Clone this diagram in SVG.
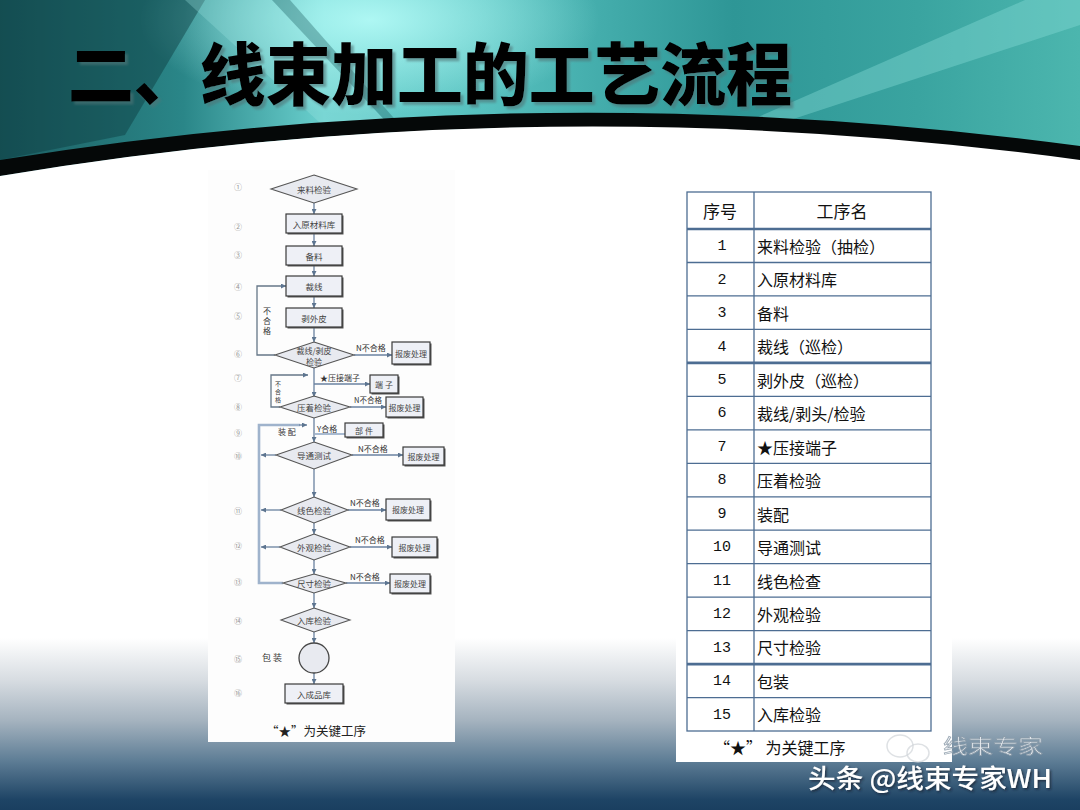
<svg xmlns="http://www.w3.org/2000/svg" width="1080" height="810" viewBox="0 0 1080 810">
<defs>
<linearGradient id="hdr" x1="0" y1="0" x2="1" y2="0">
<stop offset="0" stop-color="#1c5e62"/>
<stop offset="0.17" stop-color="#2a8688"/>
<stop offset="0.3" stop-color="#6ad0ce"/>
<stop offset="0.45" stop-color="#56c0be"/>
<stop offset="0.68" stop-color="#2e9696"/>
<stop offset="0.85" stop-color="#3aa4a0"/>
<stop offset="1" stop-color="#4cb6ae"/>
</linearGradient>
<radialGradient id="glow" cx="0.5" cy="0.5" r="0.5">
<stop offset="0" stop-color="#b6fcf8" stop-opacity="0.9"/>
<stop offset="1" stop-color="#b6fcf8" stop-opacity="0"/>
</radialGradient>
<linearGradient id="btm" x1="0" y1="0" x2="0" y2="1">
<stop offset="0" stop-color="#ffffff"/>
<stop offset="0.24" stop-color="#d8dde2"/>
<stop offset="0.48" stop-color="#a5b3bf"/>
<stop offset="0.71" stop-color="#5f7e96"/>
<stop offset="0.94" stop-color="#1e4465"/>
<stop offset="1" stop-color="#1a3f60"/>
</linearGradient>
<filter id="tsh" x="-5%" y="-20%" width="110%" height="140%">
<feDropShadow dx="3" dy="3" stdDeviation="1" flood-color="#4f7576" flood-opacity="0.6"/>
</filter>
<filter id="wsh" x="-5%" y="-30%" width="110%" height="160%">
<feDropShadow dx="1.5" dy="1.5" stdDeviation="0.8" flood-color="#15222e" flood-opacity="0.8"/>
</filter>
<marker id="ar" viewBox="0 0 6 6" refX="6" refY="3" markerWidth="5" markerHeight="5" markerUnits="userSpaceOnUse" orient="auto">
<path d="M0,0 L6,3 L0,6 z" fill="#5d7590"/>
</marker>
<style>
.fc{font-family:"Noto Sans CJK SC","Noto Sans CJK JP",sans-serif;font-size:8.5px;fill:#444;text-anchor:middle;dominant-baseline:central}
.fs{font-size:8px}
.lb{font-family:"Noto Sans CJK SC",sans-serif;font-size:8px;fill:#333}
.num{font-family:"Noto Sans CJK SC",sans-serif;font-size:8px;fill:#999;text-anchor:middle;dominant-baseline:central}
.box{fill:#eef0f6;stroke:#3a3a3a;stroke-width:1.2}
.sh{fill:#555}
.dia{fill:#e8eaf0;stroke:#555;stroke-width:1.1}
.ln{fill:none;stroke:#6a82a0;stroke-width:1.3}
.lp{fill:none;stroke:#9fb3cc;stroke-width:2.6}
.tb{fill:none;stroke:#4d6d92;stroke-width:1.3}
.tbk{fill:none;stroke:#4d6d92;stroke-width:2.6}
.tn{font-family:"Liberation Mono",monospace;font-size:15px;fill:#111;text-anchor:middle;dominant-baseline:central}
.tt{font-family:"Noto Sans CJK SC",sans-serif;font-size:16px;fill:#111;dominant-baseline:central}
</style>
</defs>

<!-- background -->
<rect x="0" y="0" width="1080" height="810" fill="#ffffff"/>
<rect x="0" y="0" width="1080" height="185" fill="url(#hdr)"/>
<ellipse cx="370" cy="20" rx="230" ry="95" fill="url(#glow)"/>
<polygon points="0,0 205,0 125,135 0,160" fill="#0c3a3e" opacity="0.45"/>
<polygon points="185,0 272,0 392,128 330,132" fill="#9ce6e2" opacity="0.3"/>
<polygon points="272,0 290,0 400,125 392,128" fill="#1a5a5c" opacity="0.35"/>
<polygon points="1025,0 1080,0 1080,25 775,125 740,125" fill="#86dcd6" opacity="0.4"/>
<path d="M0,160 Q540,73 1080,146 L1080,162 Q540,86 0,176 Z" fill="#050808"/>
<path d="M0,176 Q540,86 1080,160 L1080,810 L0,810 Z" fill="#ffffff"/>
<rect x="0" y="638" width="1080" height="172" fill="url(#btm)"/>

<!-- title -->
<g id="title">
<text x="68" y="100" font-family="'Noto Sans CJK SC',sans-serif" font-weight="900" font-size="68" fill="#000" textLength="724" lengthAdjust="spacingAndGlyphs" filter="url(#tsh)">二、线束加工的工艺流程</text>
</g>

<!-- panels -->
<rect x="208" y="170" width="247" height="572" fill="#fdfdfd"/>
<rect x="676" y="185" width="276" height="577" fill="#ffffff"/>

<!-- step numbers -->
<g id="stepnums">
<text class="num" x="238" y="186">①</text>
<text class="num" x="238" y="226">②</text>
<text class="num" x="238" y="254">③</text>
<text class="num" x="238" y="286">④</text>
<text class="num" x="238" y="315">⑤</text>
<text class="num" x="238" y="353">⑥</text>
<text class="num" x="238" y="377">⑦</text>
<text class="num" x="238" y="406">⑧</text>
<text class="num" x="238" y="432">⑨</text>
<text class="num" x="238" y="455">⑩</text>
<text class="num" x="238" y="510">⑪</text>
<text class="num" x="238" y="545">⑫</text>
<text class="num" x="238" y="581">⑬</text>
<text class="num" x="238" y="620">⑭</text>
<text class="num" x="238" y="658">⑮</text>
<text class="num" x="238" y="692">⑯</text>
</g>

<!-- connectors -->
<g id="connectors">
<line class="ln" x1="314" y1="203" x2="314" y2="214" marker-end="url(#ar)"/>
<line class="ln" x1="314" y1="233" x2="314" y2="246" marker-end="url(#ar)"/>
<line class="ln" x1="314" y1="265" x2="314" y2="276" marker-end="url(#ar)"/>
<line class="ln" x1="314" y1="296" x2="314" y2="308" marker-end="url(#ar)"/>
<line class="ln" x1="314" y1="327" x2="314" y2="342" marker-end="url(#ar)"/>
<line class="ln" x1="314" y1="368" x2="314" y2="397" marker-end="url(#ar)"/>
<line class="ln" x1="314" y1="418" x2="314" y2="442" marker-end="url(#ar)"/>
<line class="ln" x1="314" y1="469" x2="314" y2="497" marker-end="url(#ar)"/>
<line class="ln" x1="314" y1="523" x2="314" y2="534" marker-end="url(#ar)"/>
<line class="ln" x1="314" y1="560" x2="314" y2="574" marker-end="url(#ar)"/>
<line class="ln" x1="314" y1="593" x2="314" y2="608" marker-end="url(#ar)"/>
<line class="ln" x1="314" y1="632" x2="314" y2="643" marker-end="url(#ar)"/>
<line class="ln" x1="314" y1="673" x2="314" y2="684" marker-end="url(#ar)"/>
<polyline class="ln" points="275,355 257,355 257,286 286,286" style="stroke:#667788" marker-end="url(#ar)"/>
<polyline class="ln" points="280,407 271,407 271,375 308,375" style="stroke:#667788" marker-end="url(#ar)"/>
<polyline class="lp" points="283,583 259,583 259,425 300,425"/>
<line class="ln" x1="299" y1="425" x2="307" y2="425" marker-end="url(#ar)"/>
<line class="ln" x1="276" y1="455" x2="261" y2="455" marker-end="url(#ar)"/>
<line class="ln" x1="281" y1="510" x2="261" y2="510" marker-end="url(#ar)"/>
<line class="ln" x1="280" y1="547" x2="261" y2="547" marker-end="url(#ar)"/>
<line class="ln" x1="354" y1="355" x2="392" y2="355" marker-end="url(#ar)"/>
<line class="ln" x1="314" y1="384" x2="370" y2="384" marker-end="url(#ar)"/>
<line class="ln" x1="350" y1="407" x2="386" y2="407" marker-end="url(#ar)"/>
<line class="lp" x1="345" y1="434" x2="315" y2="434" style="stroke-width:1.8"/>
<line class="ln" x1="352" y1="455" x2="403" y2="455" marker-end="url(#ar)"/>
<line class="ln" x1="348" y1="510" x2="386" y2="510" marker-end="url(#ar)"/>
<line class="ln" x1="350" y1="547" x2="392" y2="547" marker-end="url(#ar)"/>
<line class="ln" x1="346" y1="583" x2="390" y2="583" marker-end="url(#ar)"/>
<text class="lb" x="263" y="314">不</text>
<text class="lb" x="263" y="324">合</text>
<text class="lb" x="263" y="334">格</text>
<text class="lb" x="275" y="386" style="font-size:6px">不</text>
<text class="lb" x="275" y="394" style="font-size:6px">合</text>
<text class="lb" x="275" y="402" style="font-size:6px">格</text>
<text class="lb" x="356" y="351">N不合格</text>
<text class="lb" x="320" y="381">★压接端子</text>
<text class="lb" x="354" y="403" style="font-size:7.5px">N不合格</text>
<text class="lb" x="317" y="432">Y合格</text>
<text class="lb" x="278" y="435">装 配</text>
<text class="lb" x="358" y="452">N不合格</text>
<text class="lb" x="350" y="506">N不合格</text>
<text class="lb" x="355" y="543">N不合格</text>
<text class="lb" x="350" y="580">N不合格</text>
<text class="lb" x="262" y="661" style="font-size:9px">包 装</text>
</g>

<!-- nodes -->
<g id="n1"><polygon class="dia" points="314,175 357,189 314,203 271,189"/><text class="fc" x="314" y="189">来料检验</text></g>
<g id="n2"><rect class="sh" x="287.5" y="215.5" width="56" height="19"/><rect class="box" x="286" y="214" width="56" height="19"/><text class="fc" x="314" y="223.5">入原材料库</text></g>
<g id="n3"><rect class="sh" x="287.5" y="247.5" width="56" height="19"/><rect class="box" x="286" y="246" width="56" height="19"/><text class="fc" x="314" y="255.5">备料</text></g>
<g id="n4"><rect class="sh" x="287.5" y="277.5" width="56" height="20"/><rect class="box" x="286" y="276" width="56" height="20"/><text class="fc" x="314" y="286">裁线</text></g>
<g id="n5"><rect class="sh" x="287.5" y="309.5" width="56" height="19"/><rect class="box" x="286" y="308" width="56" height="19"/><text class="fc" x="314" y="317.5">剥外皮</text></g>
<g id="n6"><polygon class="dia" points="314,342 354,355 314,368 275,355"/><text class="fc fs" x="314" y="350">裁线/剥皮</text><text class="fc fs" x="314" y="361">检验</text></g>
<g id="n6r"><rect class="sh" x="393.5" y="343.5" width="38" height="22"/><rect class="box" x="392" y="342" width="38" height="22"/><text class="fc fs" x="411" y="353">报废处理</text></g>
<g id="n7"><rect class="sh" x="371.5" y="376.5" width="28" height="18"/><rect class="box" x="370" y="375" width="28" height="18"/><text class="fc fs" x="384" y="384">端 子</text></g>
<g id="n8"><polygon class="dia" points="314,396 350,407 314,418 280,407"/><text class="fc" x="314" y="407">压着检验</text></g>
<g id="n8r"><rect class="sh" x="387.5" y="398.5" width="37" height="20"/><rect class="box" x="386" y="397" width="37" height="20"/><text class="fc fs" x="404.5" y="407">报废处理</text></g>
<g id="n9"><rect class="sh" x="346.5" y="424.5" width="38" height="14"/><rect class="box" x="345" y="423" width="38" height="14"/><text class="fc fs" x="364" y="430">部 件</text></g>
<g id="n10"><polygon class="dia" points="314,442 352,455 314,469 276,455"/><text class="fc" x="314" y="455">导通测试</text></g>
<g id="n10r"><rect class="sh" x="404.5" y="448.5" width="41" height="18"/><rect class="box" x="403" y="447" width="41" height="18"/><text class="fc fs" x="423.5" y="456">报废处理</text></g>
<g id="n11"><polygon class="dia" points="314,497 348,510 314,523 281,510"/><text class="fc" x="314" y="510">线色检验</text></g>
<g id="n11r"><rect class="sh" x="387.5" y="500.5" width="44" height="21"/><rect class="box" x="386" y="499" width="44" height="21"/><text class="fc fs" x="408" y="509.5">报废处理</text></g>
<g id="n12"><polygon class="dia" points="314,534 350,547 314,560 280,547"/><text class="fc" x="314" y="547">外观检验</text></g>
<g id="n12r"><rect class="sh" x="393.5" y="538.5" width="45" height="20"/><rect class="box" x="392" y="537" width="45" height="20"/><text class="fc fs" x="414.5" y="547">报废处理</text></g>
<g id="n13"><polygon class="dia" points="314,574 346,583 314,593 283,583"/><text class="fc" x="314" y="583">尺寸检验</text></g>
<g id="n13r"><rect class="sh" x="391.5" y="575.5" width="40" height="19"/><rect class="box" x="390" y="574" width="40" height="19"/><text class="fc fs" x="410" y="583.5">报废处理</text></g>
<g id="n14"><polygon class="dia" points="314,608 350,620 314,632 281,620"/><text class="fc" x="314" y="620">入库检验</text></g>
<g id="n15"><circle cx="314" cy="658" r="15" fill="#e8eaf0" stroke="#444" stroke-width="1.3"/></g>
<g id="n16"><rect class="sh" x="286.5" y="685.5" width="58" height="19"/><rect class="box" x="285" y="684" width="58" height="19"/><text class="fc" x="314" y="693.5">入成品库</text></g>
<text x="316" y="730" font-family="'Noto Sans CJK SC',sans-serif" font-size="12.5" fill="#222" text-anchor="middle" dominant-baseline="central">“★”为关键工序</text>

<!-- table -->
<g id="table">
<rect class="tb" x="687" y="192" width="244" height="539"/>
<line class="tb" x1="754" y1="192" x2="754" y2="731"/>
<line class="tbk" x1="687" y1="229" x2="931" y2="229"/>
<line class="tb" x1="687" y1="262.5" x2="931" y2="262.5"/>
<line class="tb" x1="687" y1="295.9" x2="931" y2="295.9"/>
<line class="tb" x1="687" y1="329.4" x2="931" y2="329.4"/>
<line class="tbk" x1="687" y1="362.9" x2="931" y2="362.9"/>
<line class="tb" x1="687" y1="396.4" x2="931" y2="396.4"/>
<line class="tb" x1="687" y1="429.8" x2="931" y2="429.8"/>
<line class="tb" x1="687" y1="463.3" x2="931" y2="463.3"/>
<line class="tb" x1="687" y1="496.8" x2="931" y2="496.8"/>
<line class="tb" x1="687" y1="530.2" x2="931" y2="530.2"/>
<line class="tb" x1="687" y1="563.7" x2="931" y2="563.7"/>
<line class="tb" x1="687" y1="597.2" x2="931" y2="597.2"/>
<line class="tb" x1="687" y1="630.6" x2="931" y2="630.6"/>
<line class="tbk" x1="687" y1="664.1" x2="931" y2="664.1"/>
<line class="tb" x1="687" y1="697.6" x2="931" y2="697.6"/>
<text class="tt" x="720" y="210.5" style="text-anchor:middle;font-size:17px">序号</text>
<text class="tt" x="842" y="210.5" style="text-anchor:middle;font-size:17px">工序名</text>
<text class="tn" x="722" y="246.5">1</text><text class="tt" x="757" y="245.7">来料检验（抽检）</text>
<text class="tn" x="722" y="280">2</text><text class="tt" x="757" y="279.2">入原材料库</text>
<text class="tn" x="722" y="313.5">3</text><text class="tt" x="757" y="312.7">备料</text>
<text class="tn" x="722" y="347">4</text><text class="tt" x="757" y="346.2">裁线（巡检）</text>
<text class="tn" x="722" y="380.4">5</text><text class="tt" x="757" y="379.6">剥外皮（巡检）</text>
<text class="tn" x="722" y="413.9">6</text><text class="tt" x="757" y="413.1">裁线/剥头/检验</text>
<text class="tn" x="722" y="447.4">7</text><text class="tt" x="757" y="446.6">★压接端子</text>
<text class="tn" x="722" y="480.9">8</text><text class="tt" x="757" y="480.1">压着检验</text>
<text class="tn" x="722" y="514.3">9</text><text class="tt" x="757" y="513.5">装配</text>
<text class="tn" x="722" y="547.8">10</text><text class="tt" x="757" y="547">导通测试</text>
<text class="tn" x="722" y="581.3">11</text><text class="tt" x="757" y="580.5">线色检查</text>
<text class="tn" x="722" y="614.8">12</text><text class="tt" x="757" y="614">外观检验</text>
<text class="tn" x="722" y="648.2">13</text><text class="tt" x="757" y="647.4">尺寸检验</text>
<text class="tn" x="722" y="681.7">14</text><text class="tt" x="757" y="680.9">包装</text>
<text class="tn" x="722" y="715.2">15</text><text class="tt" x="757" y="714.4">入库检验</text>
</g>
<text x="714" y="747" font-family="'Noto Sans CJK SC',sans-serif" font-size="16" fill="#111" dominant-baseline="central">“★”  为关键工序</text>

<!-- watermark -->
<g id="watermark">
<ellipse cx="900" cy="746" rx="13" ry="11" fill="none" stroke="#d0d4d8" stroke-width="1.5" opacity="0.7"/>
<ellipse cx="918" cy="753" rx="11" ry="9" fill="none" stroke="#d0d4d8" stroke-width="1.5" opacity="0.7"/>
<text x="943" y="745" font-family="'Noto Sans CJK SC',sans-serif" font-size="20" fill="#ffffff" stroke="#8a9aa8" stroke-width="0.8" opacity="0.85" dominant-baseline="central" textLength="100" lengthAdjust="spacingAndGlyphs">线束专家</text>
<text x="808" y="776" font-family="'Noto Sans CJK SC',sans-serif" font-size="26" font-weight="500" fill="#ffffff" dominant-baseline="central" textLength="244" lengthAdjust="spacingAndGlyphs" filter="url(#wsh)">头条 @线束专家WH</text>
</g>
</svg>
